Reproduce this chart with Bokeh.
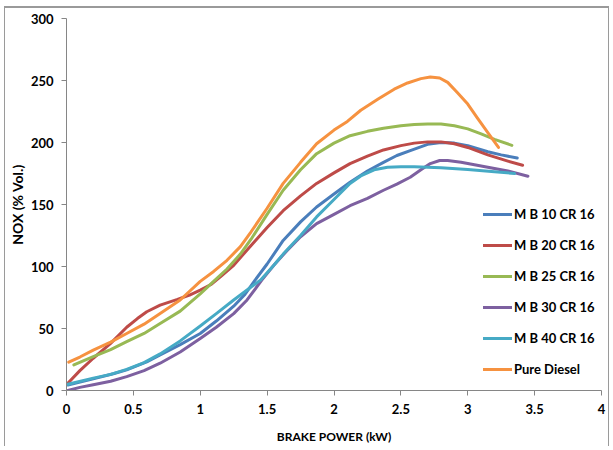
from bokeh.plotting import figure
from bokeh.layouts import column
from bokeh.models import Range1d, FixedTicker, NumeralTickFormatter, Legend, LegendItem
from bokeh.embed import file_html
from bokeh.resources import INLINE

# ---- data ----
mb10_x = [0.01, 0.2, 0.35, 0.45, 0.6, 0.7, 0.85, 1.0, 1.12, 1.25, 1.33, 1.41, 1.5, 1.62, 1.75, 1.87,
          2.0, 2.12, 2.25, 2.37, 2.47, 2.57, 2.7, 2.8, 2.9, 3.0, 3.15, 3.25, 3.37]
mb10_y = [4.5, 9.4, 13.5, 16.6, 23, 28.6, 37, 46, 56, 68, 77, 89, 102, 121, 136, 148,
          158.5, 168, 177, 184, 189.5, 193.5, 198.5, 200, 199.5, 197.5, 192.5, 190, 187.5]

mb20_x = [0.01, 0.1, 0.2, 0.33, 0.45, 0.53, 0.6, 0.7, 0.83, 0.92, 1.0, 1.08, 1.15, 1.25, 1.38, 1.5,
          1.62, 1.75, 1.87, 2.0, 2.12, 2.25, 2.37, 2.5, 2.6, 2.7, 2.8, 2.9, 3.0, 3.15, 3.3, 3.41]
mb20_y = [5.9, 16, 26, 38, 51, 58, 63.5, 68.8, 73.5, 77, 81, 85.5, 91.6, 101, 117, 131.5,
          145, 157, 167, 175.5, 183, 189, 194, 197.5, 199.5, 200.5, 200.5, 199, 196, 190, 185, 181.6]

mb25_x = [0.055, 0.2, 0.33, 0.45, 0.58, 0.7, 0.85, 1.0, 1.1, 1.2, 1.3, 1.38, 1.5, 1.62, 1.75, 1.87,
          2.0, 2.12, 2.25, 2.37, 2.5, 2.6, 2.7, 2.8, 2.9, 3.0, 3.1, 3.2, 3.33]
mb25_y = [20.6, 27.3, 33, 39.4, 46, 54, 64, 78, 88, 98, 110, 122, 142, 161.5, 178, 191,
          199.5, 205.5, 209, 211.5, 213.5, 214.5, 215, 215, 213.5, 211, 207, 202.5, 197.7]

mb30_x = [0.01, 0.1, 0.2, 0.33, 0.45, 0.58, 0.7, 0.85, 1.0, 1.12, 1.25, 1.35, 1.46, 1.55, 1.65, 1.75,
          1.87, 2.0, 2.12, 2.25, 2.37, 2.47, 2.57, 2.65, 2.72, 2.79, 2.85, 2.95, 3.1, 3.3, 3.45]
mb30_y = [0, 2.5, 4.6, 7.5, 11.2, 16, 22, 31, 42, 51, 62, 73, 89, 101, 113, 124,
          134.6, 142, 149, 155, 161.5, 166.5, 172, 178, 183, 185.5, 185.5, 184, 181, 177, 172.8]

mb40_x = [0.01, 0.2, 0.33, 0.45, 0.58, 0.7, 0.85, 1.0, 1.12, 1.25, 1.35, 1.45, 1.55, 1.62, 1.75, 1.87,
          2.0, 2.12, 2.2, 2.3, 2.4, 2.5, 2.6, 2.8, 3.0, 3.2, 3.35]
mb40_y = [5, 10, 13, 17, 22.5, 29.5, 40, 52, 62, 73, 81, 89, 101, 110, 125, 140,
          154, 167, 173, 178, 180, 180.5, 180.5, 179.7, 178.2, 176.5, 175]

diesel_x = [0.017, 0.1, 0.2, 0.33, 0.45, 0.58, 0.7, 0.85, 1.0, 1.1, 1.2, 1.3, 1.38, 1.5, 1.62, 1.75,
            1.87, 2.0, 2.1, 2.2, 2.33, 2.45, 2.55, 2.65, 2.72, 2.79, 2.85, 2.92, 3.0, 3.07, 3.15, 3.23]
diesel_y = [22.8, 27, 32.6, 39, 46, 53.5, 62, 73, 88, 96, 105, 116, 128, 147, 167, 184,
            199, 210, 217, 226, 235, 243, 248, 251.5, 252.8, 252, 248.5, 240.5, 231, 220, 208, 196]

series_names = ["M B 10 CR 16", "M B 20 CR 16", "M B 25 CR 16", "M B 30 CR 16", "M B 40 CR 16", "Pure Diesel"]
series_colors = ["#4A7EBB", "#BE4B48", "#98B954", "#7D60A0", "#46AAC5", "#F69240"]
series_data = [(mb10_x, mb10_y), (mb20_x, mb20_y), (mb25_x, mb25_y),
               (mb30_x, mb30_y), (mb40_x, mb40_y), (diesel_x, diesel_y)]

x_ticks = [0, 0.5, 1, 1.5, 2, 2.5, 3, 3.5, 4]
y_ticks = [0, 50, 100, 150, 200, 250, 300]

FONT = "Lato"

p = figure(
    frame_width=535, frame_height=372,
    x_range=Range1d(0, 4), y_range=Range1d(0, 300),
    output_backend="svg", toolbar_location=None,
    min_border_left=53, min_border_right=7, min_border_top=10, min_border_bottom=52,
)
p.outline_line_color = None
p.xgrid.visible = False
p.ygrid.visible = False
p.background_fill_color = "white"
p.border_fill_color = "white"

items = []
for name, color, (xs, ys) in zip(series_names, series_colors, series_data):
    r = p.line(xs, ys, line_color=color, line_width=3, line_join="round", line_cap="round")
    items.append(LegendItem(label=name, renderers=[r]))

for ax in (p.xaxis[0], p.yaxis[0]):
    ax.axis_line_color = "#868686"
    ax.major_tick_line_color = "#868686"
    ax.major_tick_in = 0
    ax.major_tick_out = 5
    ax.minor_tick_line_color = None
    ax.major_label_text_font = FONT
    ax.major_label_text_font_style = "bold"
    ax.major_label_text_font_size = "13px"
    ax.major_label_text_color = "black"
    ax.axis_label_text_font = FONT
    ax.axis_label_text_font_style = "bold"
    ax.axis_label_text_font_size = "12px"
    ax.axis_label_text_color = "black"

p.xaxis[0].ticker = FixedTicker(ticks=x_ticks)
p.xaxis[0].formatter = NumeralTickFormatter(format="0.[0]")
p.xaxis[0].axis_label = "BRAKE POWER (kW)"
p.xaxis[0].major_label_standoff = 8
p.xaxis[0].axis_label_standoff = 12

p.yaxis[0].ticker = FixedTicker(ticks=y_ticks)
p.yaxis[0].axis_label = "NOX (% Vol.)"
p.yaxis[0].axis_label_text_font_size = "14px"
p.yaxis[0].major_label_standoff = 8
p.yaxis[0].axis_label_standoff = 2

legend = Legend(items=items, location=(417, 13))
legend.border_line_color = None
legend.background_fill_alpha = 0
legend.padding = 0
legend.margin = 0
legend.spacing = 15
legend.glyph_width = 29
legend.glyph_height = 16
legend.label_height = 16
legend.label_standoff = 2
legend.label_text_font = FONT
legend.label_text_font_style = "bold"
legend.label_text_font_size = "13px"
legend.label_text_color = "black"
p.add_layout(legend, "center")

# chart-area frame: gray top/left/right border around the whole chart
layout = column(p, styles={"margin-left": "4px", "margin-top": "7px",
                           "border-top": "1px solid #9a9a9a",
                           "border-left": "1px solid #9a9a9a",
                           "border-right": "1px solid #9a9a9a",
                           "box-shadow": "0 -1px 0 #9a9a9a"})

open("out.html", "w").write(file_html(layout, INLINE))
